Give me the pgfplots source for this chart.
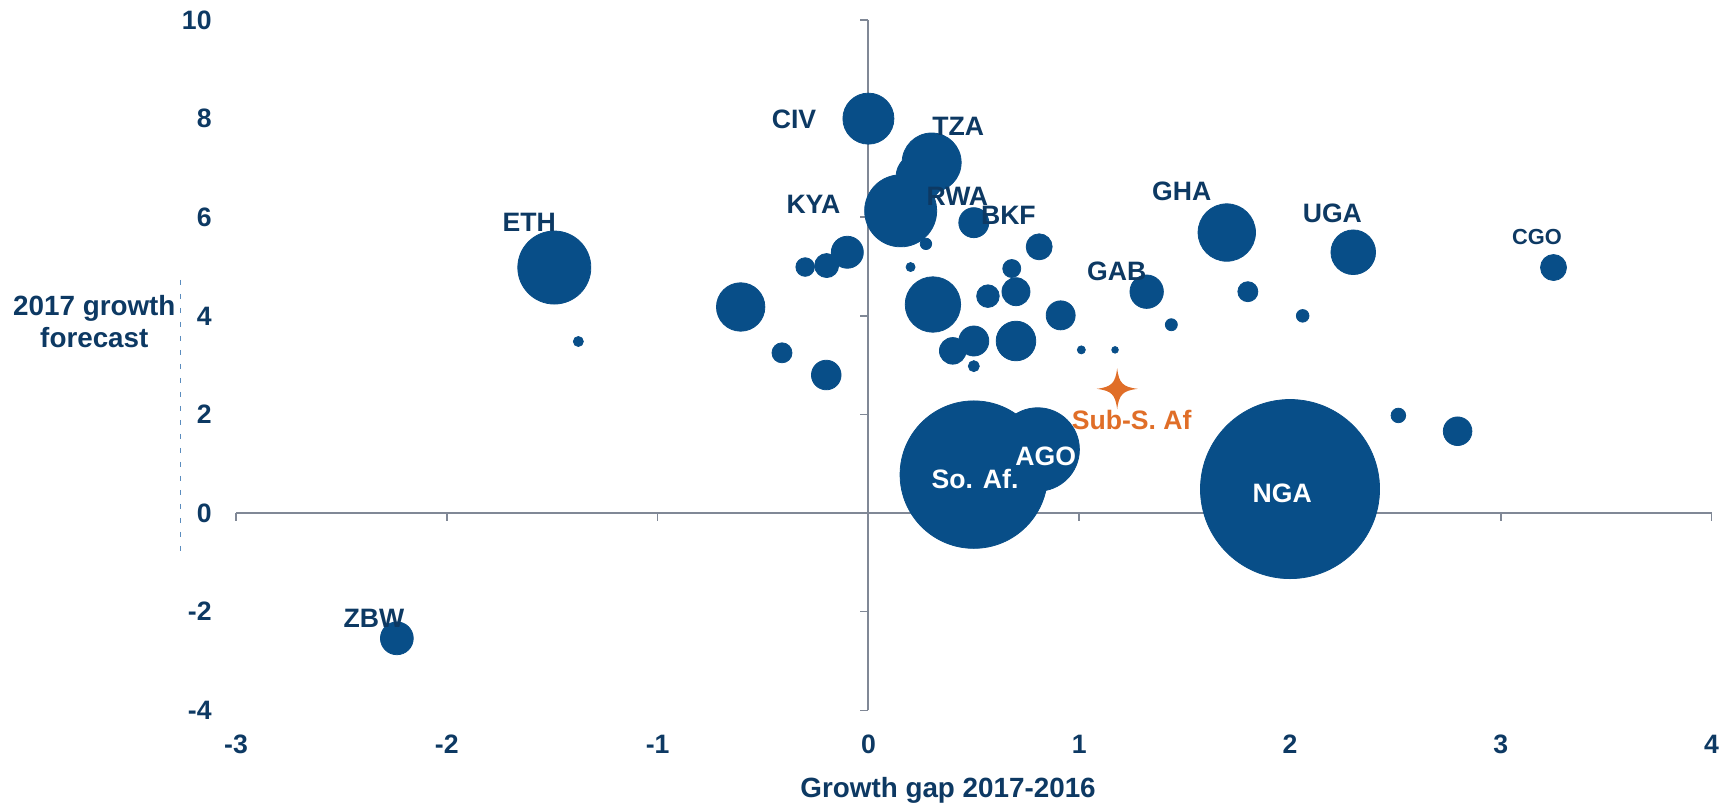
\documentclass[border=0pt]{standalone}
\usepackage{pgfplots}
\pgfplotsset{compat=1.18}
\usepackage{fontspec}
\setmainfont{Liberation Sans}
\definecolor{bubble}{RGB}{8,78,136}
\definecolor{navy}{RGB}{13,57,99}
\definecolor{axgray}{RGB}{128,136,150}
\definecolor{orng}{RGB}{224,110,40}
\definecolor{dashblue}{RGB}{90,140,190}
\tikzset{lbl/.style={font=\fontsize{13.3}{16}\selectfont\bfseries, text=navy, inner sep=0pt}}

\pgfdeclareplotmark{star4}{%
  \pgfpathmoveto{\pgfqpoint{0pt}{10.3pt}}%
  \pgfpathcurveto{\pgfqpoint{0.9pt}{2.8pt}}{\pgfqpoint{2.8pt}{0.9pt}}{\pgfqpoint{10.3pt}{0pt}}%
  \pgfpathcurveto{\pgfqpoint{2.8pt}{-0.9pt}}{\pgfqpoint{0.9pt}{-2.8pt}}{\pgfqpoint{0pt}{-10.3pt}}%
  \pgfpathcurveto{\pgfqpoint{-0.9pt}{-2.8pt}}{\pgfqpoint{-2.8pt}{-0.9pt}}{\pgfqpoint{-10.3pt}{0pt}}%
  \pgfpathcurveto{\pgfqpoint{-2.8pt}{0.9pt}}{\pgfqpoint{-0.9pt}{2.8pt}}{\pgfqpoint{0pt}{10.3pt}}%
  \pgfpathclose\pgfusepathqfill}

% x = growth gap, y = 2017 forecast, r = bubble radius (pt)
\pgfplotstableread{
x y r
0.00 8.00 12.75
0.245 6.82 12.0
0.30 7.11 14.75
0.153 6.13 18.0
0.50 5.89 7.5
0.273 5.46 2.85
0.81 5.40 6.5
0.20 4.99 2.25
0.68 4.96 4.5
0.70 4.49 7.0
0.567 4.40 5.65
0.306 4.23 13.85
0.912 4.01 7.25
1.32 4.49 8.35
0.70 3.49 9.9
0.50 3.49 7.5
0.40 3.29 6.65
0.50 2.98 2.75
1.01 3.31 2.0
1.17 3.31 1.65
-0.10 5.29 8.0
-0.198 5.02 6.0
-0.30 4.99 4.65
-0.41 3.25 5.0
-0.20 2.80 7.4
-1.49 4.98 18.25
-1.376 3.48 2.5
-0.606 4.18 12.1
1.70 5.69 14.35
2.30 5.29 11.15
1.80 4.49 5.0
1.437 3.82 3.0
2.06 4.00 3.15
3.25 4.98 6.5
-2.237 -2.54 8.2
0.50 0.78 36.85
0.803 1.29 20.85
2.00 0.487 44.75
2.514 1.98 3.65
2.795 1.66 7.15
}\bubbles

\begin{document}
\begin{tikzpicture}
\begin{axis}[
  scale only axis, width=737.5pt, height=345pt,
  xmin=-3, xmax=4, ymin=-4, ymax=10,
  clip=false,
  axis line style={draw=none},
  tick style={draw=none},
  xtick={-3,-2,-1,0,1,2,3,4}, xticklabels={-3,-2,-1,0,1,2,3,4},
  ytick={-4,-2,0,2,4,6,8,10}, yticklabels={-4,-2,0,2,4,6,8,10},
  xticklabel style={anchor=center, yshift=-17pt, inner sep=0pt},
  yticklabel style={anchor=east, xshift=-12pt, inner sep=0pt},
  tick label style={font=\fontsize{13.3}{16}\selectfont\bfseries, text=navy},
]
\draw[axgray, line width=1pt] (axis cs:-3,0) -- (axis cs:4,0);
\draw[axgray, line width=1pt] (axis cs:0,-4) -- (axis cs:0,10);
\pgfplotsinvokeforeach{-3,-2,-1,1,2,3,4}{\draw[axgray, line width=0.8pt] (axis cs:#1,0) -- ++(0pt,-4pt);}
\pgfplotsinvokeforeach{-4,-2,2,4,6,8,10}{\draw[axgray, line width=0.8pt] (axis cs:0,#1) -- ++(-4pt,0pt);}

\addplot[scatter, only marks, mark=*,
  scatter/use mapped color={draw=bubble, fill=bubble},
  visualization depends on={\thisrow{r} \as \rr},
  scatter/@pre marker code/.append style={/tikz/mark size=\rr pt},
  mark options={draw=none, fill=bubble}]
  table[x=x, y=y] {\bubbles};

\addplot[only marks, mark=star4, color=orng, fill=orng] coordinates {(1.18,2.52)};

\coordinate (civ) at (axis cs:-0.353,7.99);
\coordinate (tza) at (axis cs:0.426,7.84);
\coordinate (rwa) at (axis cs:0.422,6.43);
\coordinate (kya) at (axis cs:-0.261,6.26);
\coordinate (bkf) at (axis cs:0.664,6.04);
\coordinate (gab) at (axis cs:1.178,4.91);
\coordinate (eth) at (axis cs:-1.609,5.89);
\coordinate (gha) at (axis cs:1.486,6.52);
\coordinate (uga) at (axis cs:2.201,6.08);
\coordinate (cgo) at (axis cs:3.172,5.59);
\coordinate (zbw) at (axis cs:-2.346,-2.14);
\coordinate (soaf) at (axis cs:0.506,0.70);
\coordinate (ago) at (axis cs:0.841,1.16);
\coordinate (nga) at (axis cs:1.963,0.41);
\coordinate (ssa) at (axis cs:1.249,1.89);
\coordinate (ylab) at (axis cs:-3.672,3.89);
\coordinate (xlab) at (axis cs:0.378,-5.63);
\coordinate (dtop) at (axis cs:-3.264,4.73);
\coordinate (dbot) at (axis cs:-3.264,-0.85);
\coordinate (bl) at (axis cs:-4.1196,-6.004);
\coordinate (tr) at (axis cs:4.0588,10.406);
\end{axis}

\node[lbl] at (civ) {CIV};
\node[lbl] at (tza) {TZA};
\node[lbl] at (rwa) {RWA};
\node[lbl] at (kya) {KYA};
\node[lbl] at (bkf) {BKF};
\node[lbl] at (gab) {GAB};
\node[lbl] at (eth) {ETH};
\node[lbl] at (gha) {GHA};
\node[lbl] at (uga) {UGA};
\node[lbl, font=\fontsize{10.9}{13}\selectfont\bfseries] at (cgo) {CGO};
\node[lbl] at (zbw) {ZBW};
\node[lbl, text=white] at (soaf) {So. Af.};
\node[lbl, text=white] at (ago) {AGO};
\node[lbl, text=white] at (nga) {NGA};
\node[lbl, text=orng] at (ssa) {Sub-S. Af};
\node[lbl, align=center, font=\fontsize{13.9}{15.85}\selectfont\bfseries] at (ylab) {2017 growth\\forecast};
\draw[dashblue, line width=0.6pt, dash pattern=on 2.5pt off 4.5pt] (dtop) -- (dbot);
\node[lbl, font=\fontsize{13.9}{16}\selectfont\bfseries] at (xlab) {Growth gap 2017-2016};

\pgfresetboundingbox
\useasboundingbox (bl) rectangle (tr);
\end{tikzpicture}
\end{document}
